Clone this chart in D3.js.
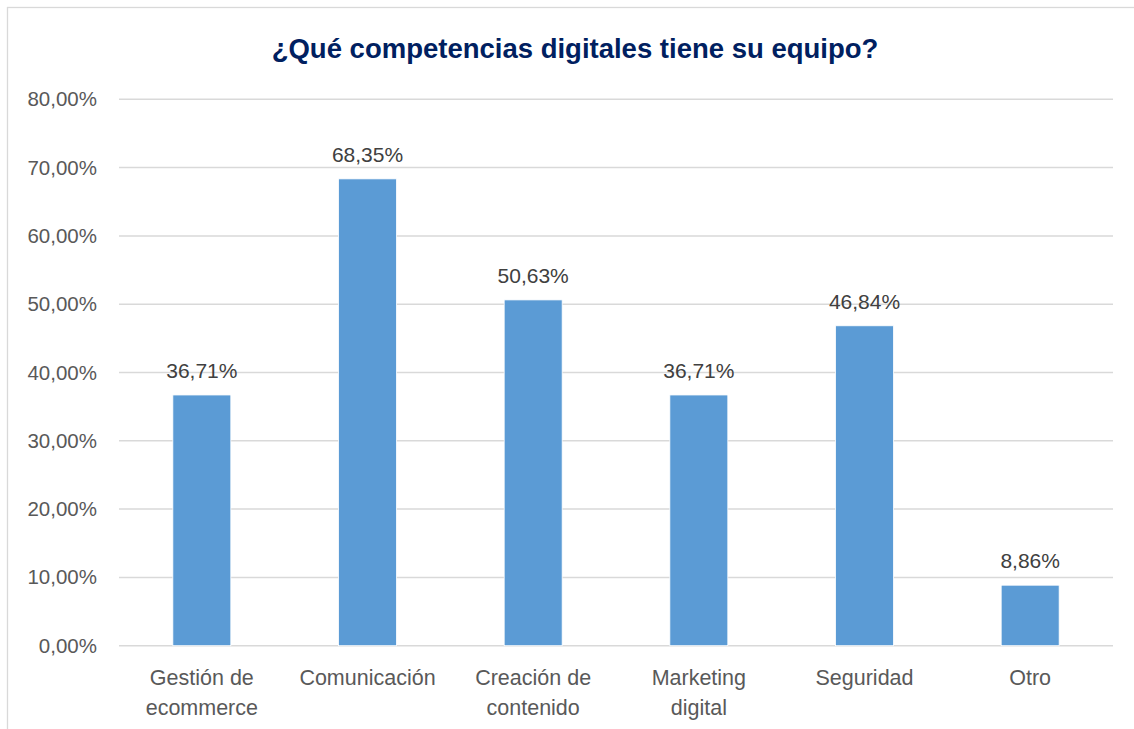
<!DOCTYPE html>
<html>
<head>
<meta charset="utf-8">
<script src="https://cdn.jsdelivr.net/npm/d3@7"></script>
<style>
  html, body { margin: 0; padding: 0; background: #fff; }
  svg { display: block; font-family: "Liberation Sans", Arial, sans-serif; }
</style>
</head>
<body>
<div id="root"></div>
<script>
const categories = [
    ["Gestión de", "ecommerce"],
    ["Comunicación"],
    ["Creación de", "contenido"],
    ["Marketing", "digital"],
    ["Seguridad"],
    ["Otro"]
];
const values = [0.3671, 0.6835, 0.5063, 0.3671, 0.4684, 0.0886];
const yTicks = [0, 0.1, 0.2, 0.3, 0.4, 0.5, 0.6, 0.7, 0.8];
const chartTitle = "¿Qué competencias digitales tiene su equipo?";

let width = 1134,
    height = 729,
    margin = { top: 99.3, right: 21, bottom: 83.3, left: 119 };

let esLocale = d3.formatLocale({ decimal: ",", thousands: ".", grouping: [3], currency: ["", " €"] }),
    fmt = esLocale.format(".2%");

let svg = d3.select('#root').append('svg')
    .attr('width', width)
    .attr('height', height);

// chart frame (cut off on the right and bottom)
svg.append('rect')
    .attr('x', 7.5).attr('y', 7.5)
    .attr('width', width + 20).attr('height', height + 20)
    .attr('fill', 'none')
    .attr('stroke', '#d9d9d9')
    .attr('stroke-width', 1.3);

let x = d3.scaleBand()
    .domain(d3.range(categories.length))
    .range([margin.left, width - margin.right])
    .paddingInner(0.65)
    .paddingOuter(0.325);

let y = d3.scaleLinear()
    .domain([0, 0.8])
    .range([height - margin.bottom, margin.top]);

// gridlines
svg.append('g')
    .selectAll('line')
    .data(yTicks)
    .enter()
    .append('line')
    .attr('x1', margin.left)
    .attr('x2', width - margin.right)
    .attr('y1', d => y(d))
    .attr('y2', d => y(d))
    .attr('stroke', '#d9d9d9')
    .attr('stroke-width', 1.5);

// y axis labels
let yAxis = svg.append('g')
    .attr('transform', 'translate(' + (margin.left - 22) + ',0)')
    .call(d3.axisLeft(y).tickValues(yTicks).tickFormat(fmt).tickSize(0).tickPadding(0));
yAxis.select('.domain').remove();
yAxis.selectAll('text')
    .attr('fill', '#595959')
    .style('font-size', '20.5px')
    .style('font-family', '"Liberation Sans", Arial, sans-serif');

// bars
svg.append('g')
    .selectAll('rect')
    .data(values)
    .enter()
    .append('rect')
    .attr('x', (d, i) => x(i))
    .attr('y', d => y(d))
    .attr('width', x.bandwidth())
    .attr('height', d => y(0) - y(d))
    .attr('fill', '#5b9bd5')
    .attr('stroke', '#ffffff')
    .attr('stroke-width', 0.8);

// value labels
svg.append('g')
    .selectAll('text')
    .data(values)
    .enter()
    .append('text')
    .attr('x', (d, i) => x(i) + x.bandwidth() / 2)
    .attr('y', d => y(d) - 17)
    .attr('text-anchor', 'middle')
    .attr('fill', '#404040')
    .style('font-size', '21px')
    .text(d => fmt(d));

// category labels
svg.append('g')
    .selectAll('text')
    .data(categories)
    .enter()
    .append('text')
    .attr('x', (d, i) => x(i) + x.bandwidth() / 2)
    .attr('y', y(0) + 39)
    .attr('text-anchor', 'middle')
    .attr('fill', '#595959')
    .style('font-size', '21.5px')
    .each(function (d) {
        d3.select(this)
            .selectAll('tspan')
            .data(d)
            .enter()
            .append('tspan')
            .attr('x', d3.select(this).attr('x'))
            .attr('dy', (t, j) => j == 0 ? 0 : 30)
            .text(t => t);
    });

// title
svg.append('text')
    .attr('x', 575)
    .attr('y', 58)
    .attr('text-anchor', 'middle')
    .attr('fill', '#002060')
    .style('font-size', '27.5px')
    .style('font-weight', 'bold')
    .text(chartTitle);
</script>
</body>
</html>
